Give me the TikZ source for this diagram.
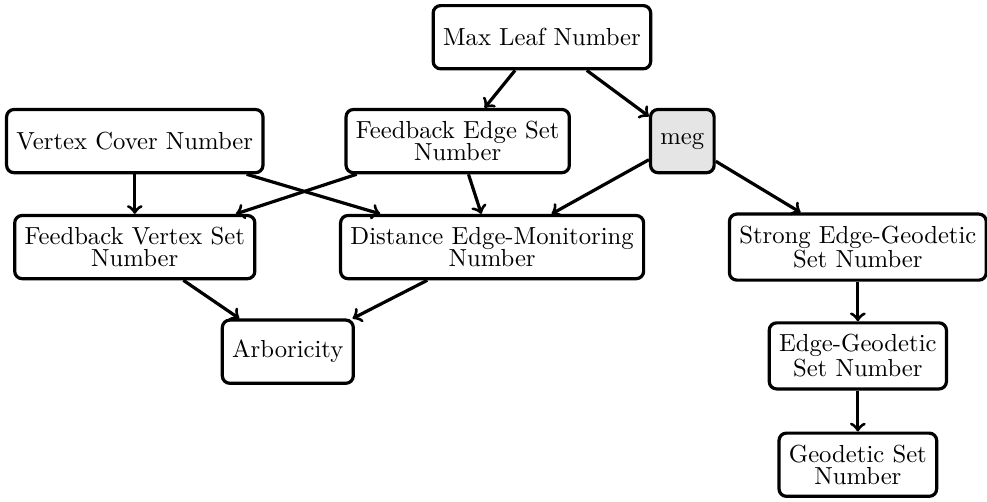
\documentclass[tikz,border=0pt]{standalone}
\usepackage{tikz}
\usetikzlibrary{positioning}

\begin{document}
\begin{tikzpicture}
[
    >=to, auto,
    % Parameters are named by short keys: maxleaf, meg, fes, ...
    % Edges always point from the larger parameter to the smaller one
]

%=================================== Start ===================================
\tikzstyle{param} = [draw, line width=1.3pt, rounded corners=3pt, align=center,
                     inner xsep=4pt, inner ysep=4.7pt,
                     minimum height=0.9cm, minimum width=0.9cm,
                     font=\fontsize{10}{9}\selectfont]
\tikzstyle{new}   = [param, fill=gray!20]
\tikzstyle{bound} = [->, line width=1.3pt]

\useasboundingbox (0,0) rectangle (14.06,-7.14);

{
    % Top row
    \node[param] (maxleaf) at (7.72,-0.53) {Max Leaf Number};

    % Second row
    \node[param] (vc)  at (1.92,-2.01) {Vertex Cover Number};
    \node[param] (fes) at (6.52,-2.01) {Feedback Edge Set\\Number};
    \node[new]   (meg) at (9.72,-2.01) {meg};

    % Third row
    \node[param] (fvs) at (1.92,-3.52)  {Feedback Vertex Set\\Number};
    \node[param] (dem) at (7.01,-3.52)  {Distance Edge-Monitoring\\Number};
    \node[param] (seg) at (12.22,-3.52) {Strong Edge-Geodetic\\Set Number};

    % Bottom rows
    \node[param] (arb) at (4.10,-5.01)  {Arboricity};
    \node[param] (eg)  at (12.22,-5.07) {Edge-Geodetic\\Set Number};
    \node[param] (gs)  at (12.22,-6.62) {Geodetic Set\\Number};

    % Connect parameters
    \foreach \source / \dest in {maxleaf/fes, maxleaf/meg,
                                 vc/fvs, vc/dem,
                                 fes/fvs, fes/dem,
                                 meg/dem, meg/seg,
                                 fvs/arb, dem/arb,
                                 seg/eg, eg/gs}
        \draw[bound] (\source) -- (\dest);
}
%==================================== END ====================================

\end{tikzpicture}
\end{document}
